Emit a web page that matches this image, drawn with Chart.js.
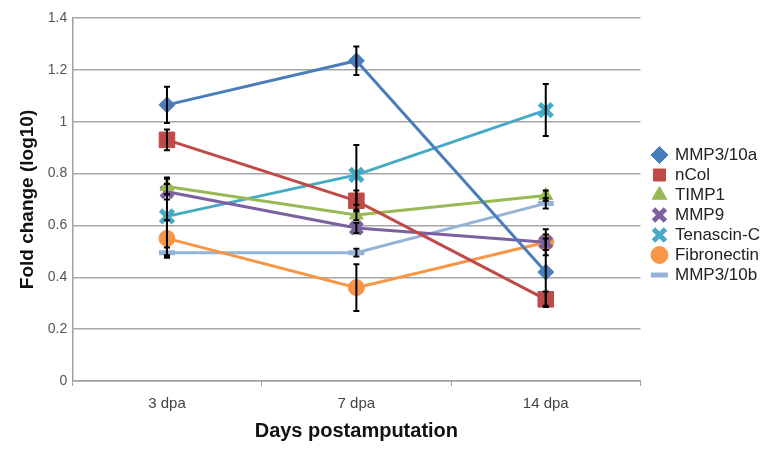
<!DOCTYPE html>
<html>
<head>
<meta charset="utf-8">
<script src="https://cdn.jsdelivr.net/npm/chart.js@4"></script>
<style>
  html, body { margin: 0; padding: 0; background: #fff; }
  #wrap { width: 775px; height: 450px; }
</style>
</head>
<body>
<div id="wrap"><canvas id="lineChart"></canvas></div>
<script>
const days = ['3 dpa', '7 dpa', '14 dpa'];

const mmp310a = [1.065, 1.235, 0.42];
const ncol = [0.93, 0.695, 0.315];
const timp1 = [0.75, 0.64, 0.715];
const mmp9 = [0.73, 0.59, 0.535];
const tenascin = [0.635, 0.795, 1.045];
const fibronectin = [0.55, 0.36, 0.535];
const mmp310b = [0.495, 0.495, 0.685];

// +/- error
const mmp310aErr = [0.07, 0.055, 0.13];
const ncolErr = [0.04, 0.04, 0.03];
const timp1Err = [0.03, 0.02, 0.02];
const mmp9Err = [0.03, 0.02, 0.03];
const tenascinErr = [0.15, 0.115, 0.1];
const fibronectinErr = [0.07, 0.09, 0.05];
const mmp310bErr = [0.02, 0.015, 0.02];

function series(label, data, err, color, style, radius, bw) {
  return {
    label, data, err,
    borderColor: color,
    backgroundColor: color,
    borderWidth: 3,
    pointStyle: style,
    pointRadius: radius,
    pointHoverRadius: radius,
    pointBackgroundColor: color,
    pointBorderColor: color,
    pointBorderWidth: bw,
    tension: 0
  };
}

const errorBars = {
  id: 'errorBars',
  afterDatasetsDraw(chart) {
    const ctx = chart.ctx;
    const y = chart.scales.y;
    ctx.save();
    ctx.strokeStyle = '#000';
    ctx.lineWidth = 2;
    chart.data.datasets.forEach((ds, i) => {
      const meta = chart.getDatasetMeta(i);
      meta.data.forEach((pt, j) => {
        const e = ds.err[j];
        const top = y.getPixelForValue(ds.data[j] + e);
        const bot = y.getPixelForValue(ds.data[j] - e);
        ctx.beginPath();
        ctx.moveTo(pt.x, top); ctx.lineTo(pt.x, bot);
        ctx.moveTo(pt.x - 3, top); ctx.lineTo(pt.x + 3, top);
        ctx.moveTo(pt.x - 3, bot); ctx.lineTo(pt.x + 3, bot);
        ctx.stroke();
      });
    });
    ctx.restore();
  }
};

// nudge the legend a bit up and right, like the original
const shiftLegend = {
  id: 'shiftLegend',
  afterLayout(chart) {
    const l = chart.legend;
    l.left += 9; l.right += 9;
    l.top -= 14; l.bottom -= 14;
  }
};

Chart.defaults.font.family = '"Liberation Sans", Arial, sans-serif';

new Chart(document.getElementById('lineChart'), {
  type: 'line',
  data: {
    labels: days,
    datasets: [
      series('MMP3/10a', mmp310a, mmp310aErr, '#4a7ebb', 'rectRot', 8, 1),
      series('nCol', ncol, ncolErr, '#be4b48', 'rect', 11, 1),
      series('TIMP1', timp1, timp1Err, '#98b954', 'triangle', 8, 1),
      series('MMP9', mmp9, mmp9Err, '#7d60a0', 'crossRot', 8, 5),
      series('Tenascin-C', tenascin, tenascinErr, '#46aac5', 'crossRot', 9, 5),
      series('Fibronectin', fibronectin, fibronectinErr, '#f79646', 'circle', 8, 1),
      series('MMP3/10b', mmp310b, mmp310bErr, '#95b3d7', 'line', 8, 5)
    ]
  },
  plugins: [errorBars, shiftLegend],
  options: {
    responsive: true,
    maintainAspectRatio: false,
    animation: false,
    layout: { padding: { left: 16, top: 18, right: 14, bottom: 10 } },
    plugins: {
      tooltip: { enabled: false },
      legend: {
        position: 'right',
        labels: {
          usePointStyle: true,
          boxWidth: 14,
          boxHeight: 12,
          padding: 3,
          color: '#222',
          font: { size: 17 }
        }
      }
    },
    scales: {
      x: {
        offset: true,
        grid: { display: true, drawOnChartArea: false, drawTicks: true, tickLength: 5, color: '#a0a0a0', offset: true },
        border: { color: '#a0a0a0', width: 1.5 },
        ticks: { color: '#444', font: { size: 15 }, padding: 9 },
        title: { display: true, text: 'Days postamputation', color: '#111', font: { size: 20, weight: 'bold', lineHeight: 0.9 }, padding: { top: 0, bottom: 0 } }
      },
      y: {
        min: 0, max: 1.4,
        ticks: {
          stepSize: 0.2,
          color: '#555',
          font: { size: 14 },
          padding: 5,
          callback: v => String(+v.toFixed(1))
        },
        grid: { color: '#a6a6a6', lineWidth: 1.5, drawTicks: false },
        border: { color: '#a0a0a0', width: 1.5 },
        title: { display: true, text: 'Fold change (log10)', color: '#111', font: { size: 19, weight: 'bold' }, padding: { top: 0, bottom: 4 } }
      }
    }
  }
});
</script>
</body>
</html>
